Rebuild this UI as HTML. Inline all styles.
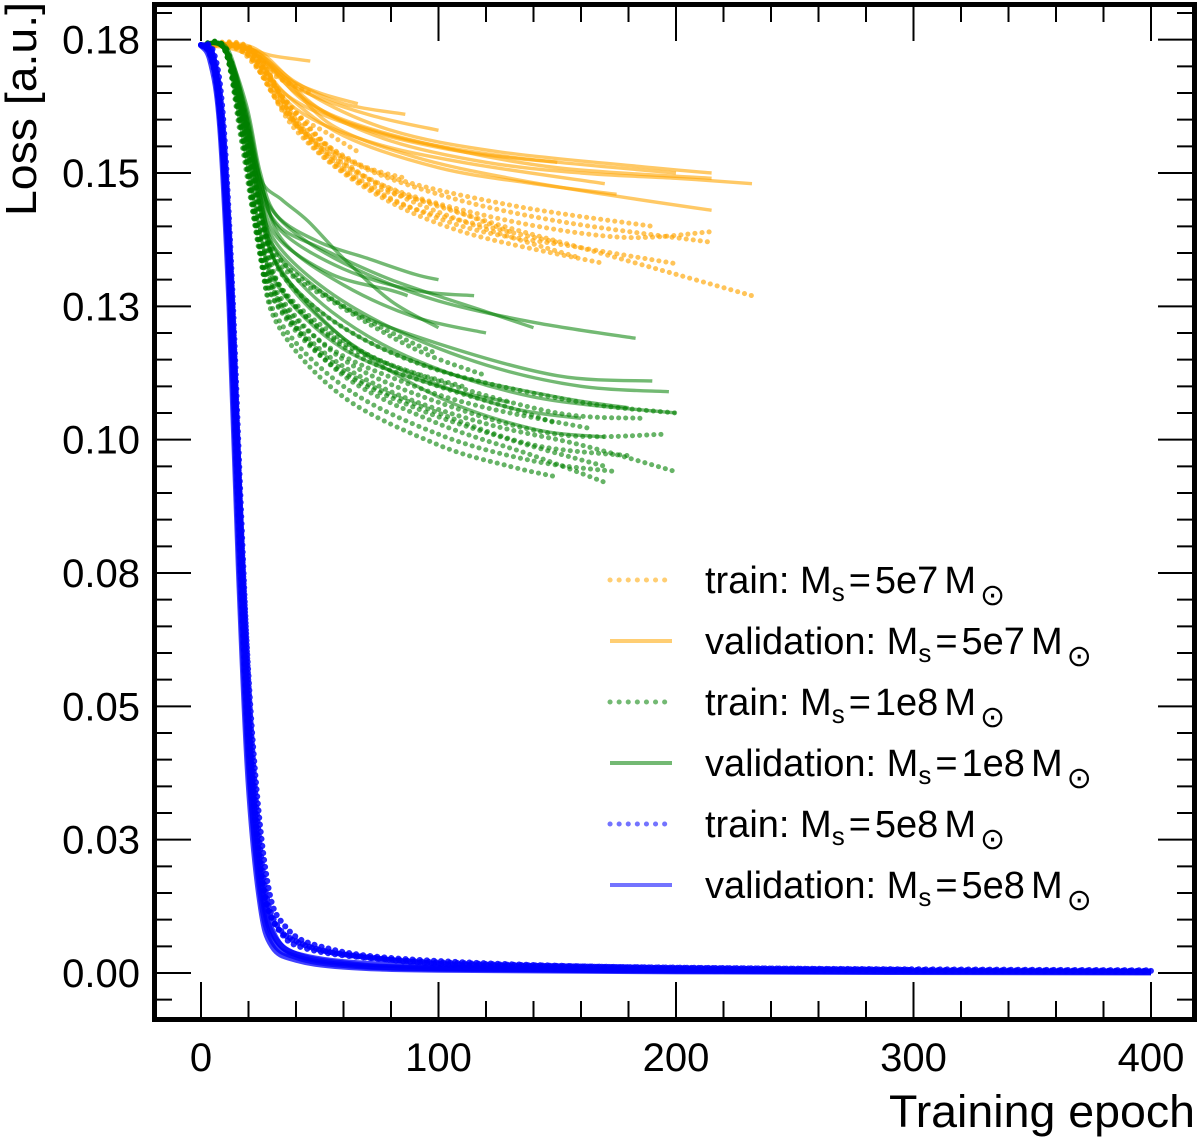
<!DOCTYPE html>
<html><head><meta charset="utf-8"><style>
html,body{margin:0;padding:0;background:#fff;}
svg text{font-family:"Liberation Sans",sans-serif;fill:#000;}
</style></head><body>
<svg id="chart" width="1200" height="1138" viewBox="0 0 1200 1138" xmlns="http://www.w3.org/2000/svg">
<g id="series"></g>
<g id="axes"></g>
<rect x="154.5" y="4.5" width="1040" height="1015" fill="none" stroke="#000" stroke-width="5"/>
<text transform="translate(36,216) rotate(-90)" font-size="44" text-anchor="start" textLength="214" lengthAdjust="spacingAndGlyphs">Loss [a.u.]</text>
<text x="1195" y="1127" font-size="45" text-anchor="end" textLength="306" lengthAdjust="spacingAndGlyphs">Training epoch</text>
<g id="legend"></g>
</svg>
<script>
const xTicks=[0,100,200,300,400];
const yTicks=[0,0.025,0.05,0.075,0.1,0.125,0.15,0.175];
const yTickLabels=["0.00","0.03","0.05","0.08","0.10","0.13","0.15","0.18"];
const blueVal=[
[[0,.174],[4,.172],[8,.162],[12,.13],[16,.08],[20,.04],[25,.015],[30,.006],[40,.003],[60,.0015],[100,.0008],[200,.0004],[400,.0002]],
[[0,.174],[4,.171],[8,.159],[12,.125],[16,.075],[20,.036],[25,.013],[30,.005],[40,.0025],[60,.0012],[100,.0006],[200,.0003],[400,.0001]],
[[0,.174],[5,.172],[9,.157],[13,.125],[17,.08],[21,.04],[26,.016],[31,.007],[40,.0035],[60,.0018],[100,.0009],[260,.0004]],
[[0,.174],[5,.171],[9,.155],[13,.12],[17,.074],[21,.035],[26,.014],[32,.006],[45,.003],[80,.0015],[160,.0006],[400,.0002]]];
const blueTrain=[
[[0,.174],[4,.172],[8,.163],[12,.135],[16,.088],[20,.048],[25,.02],[30,.01],[40,.006],[60,.0035],[100,.002],[200,.001],[400,.0005]],
[[0,.174],[5,.173],[9,.162],[13,.13],[17,.085],[21,.046],[26,.019],[32,.009],[45,.005],[70,.003],[120,.0015],[300,.0006]],
[[0,.174],[4,.172],[8,.161],[12,.132],[16,.084],[20,.044],[26,.017],[33,.008],[45,.0045],[80,.0025],[150,.001],[400,.0003]],
[[0,.174],[5,.172],[9,.16],[13,.128],[17,.082],[22,.042],[28,.017],[35,.009],[50,.005],[90,.0025],[200,.0009],[400,.0004]]];
const orangeVal=[
[[0,.174],[15,.174],[30,.170],[50,.162],[80,.156],[120,.152],[160,.150],[200,.149],[232,.148]],
[[0,.174],[20,.1735],[35,.168],[55,.159],[90,.153],[130,.149],[170,.146],[215,.143]],
[[0,.174],[20,.173],[40,.165],[60,.160],[100,.155],[150,.151],[215,.149]],
[[0,.174],[18,.1735],[30,.172],[46,.171]],
[[0,.174],[18,.1735],[35,.168],[50,.165],[66,.163]],
[[0,.174],[20,.1735],[40,.167],[60,.163],[86,.161]],
[[0,.174],[20,.173],[40,.166],[70,.161],[100,.158]],
[[0,.174],[22,.173],[45,.163],[80,.157],[130,.153],[200,.150]],
[[0,.174],[20,.172],[40,.162],[70,.156],[110,.152],[170,.148]],
[[0,.174],[20,.173],[38,.164],[70,.158],[110,.154],[150,.152]],
[[0,.174],[18,.173],[35,.165],[60,.157],[100,.151],[140,.148],[175,.146]],
[[0,.174],[22,.1735],[45,.165],[80,.158],[125,.154],[190,.151],[215,.150]]];
const orangeTrain=[
[[0,.174],[15,.1735],[30,.166],[50,.155],[80,.147],[120,.141],[160,.136],[200,.131],[232,.127]],
[[0,.174],[18,.1735],[35,.164],[60,.153],[100,.146],[150,.141],[215,.137]],
[[0,.174],[20,.173],[40,.161],[70,.149],[110,.141],[160,.134]],
[[0,.174],[18,.173],[32,.168],[46,.165]],
[[0,.174],[20,.173],[38,.162],[55,.157],[66,.154]],
[[0,.174],[20,.173],[40,.160],[65,.152],[86,.149]],
[[0,.174],[22,.173],[42,.158],[70,.148],[100,.144],[130,.139]],
[[0,.174],[18,.173],[35,.162],[65,.149],[110,.140],[160,.136],[200,.133]],
[[0,.174],[20,.172],[40,.158],[70,.147],[110,.139],[170,.133]],
[[0,.174],[22,.173],[45,.156],[80,.145],[120,.140],[150,.137]],
[[0,.174],[18,.173],[38,.160],[70,.149],[120,.142],[175,.138],[215,.139]],
[[0,.174],[20,.173],[40,.159],[75,.150],[130,.144],[190,.140]]];
const greenVal=[
[[0,.174],[10,.1735],[18,.163],[24,.150],[30,.143],[45,.137],[70,.131],[100,.126],[140,.122],[183,.119]],
[[0,.174],[10,.1735],[18,.162],[24,.148],[30,.138],[50,.129],[80,.121],[120,.114],[160,.110],[197,.109]],
[[0,.174],[10,.173],[18,.160],[25,.146],[32,.135],[55,.124],[90,.115],[140,.108],[200,.105]],
[[0,.174],[10,.173],[17,.160],[24,.145],[32,.133],[60,.119],[100,.108],[140,.102],[170,.1005]],
[[0,.174],[10,.1735],[19,.163],[25,.150],[32,.142],[50,.137],[70,.134],[90,.131],[100,.130]],
[[0,.174],[11,.1735],[19,.161],[26,.147],[34,.139],[60,.132],[90,.128],[115,.127]],
[[0,.174],[10,.1735],[18,.161],[25,.147],[32,.138],[55,.131],[80,.128],[87,.127]],
[[0,.174],[10,.173],[18,.160],[24,.146],[31,.136],[60,.125],[100,.118],[150,.112],[190,.111]],
[[0,.174],[10,.173],[18,.159],[25,.144],[33,.132],[60,.121],[100,.113],[150,.108],[180,.106]],
[[0,.174],[11,.173],[19,.159],[26,.143],[34,.131],[60,.119],[90,.112],[130,.106],[160,.104]],
[[0,.174],[10,.173],[18,.161],[25,.147],[33,.140],[50,.136],[80,.130],[120,.124],[140,.121]],
[[0,.174],[10,.173],[17,.158],[24,.141],[32,.129],[60,.117],[100,.110],[130,.107]],
[[0,.174],[10,.1735],[19,.162],[26,.147],[35,.137],[60,.129],[90,.123],[120,.120]],
[[0,.174],[10,.1735],[18,.162],[25,.149],[34,.145],[45,.141],[60,.134],[80,.126],[100,.121]]];
const greenTrain=[
[[0,.174],[10,.173],[17,.158],[23,.140],[30,.128],[50,.117],[80,.109],[120,.103],[160,.099],[200,.094]],
[[0,.174],[10,.173],[18,.158],[24,.139],[31,.126],[55,.114],[90,.106],[130,.100],[170,.095]],
[[0,.174],[11,.173],[19,.156],[26,.137],[34,.125],[60,.112],[100,.103],[140,.097],[170,.092]],
[[0,.174],[10,.173],[18,.156],[25,.138],[33,.127],[60,.115],[100,.107],[150,.101],[195,.101]],
[[0,.174],[10,.1735],[19,.160],[26,.141],[35,.133],[60,.125],[85,.119],[100,.116]],
[[0,.174],[11,.173],[19,.158],[27,.138],[36,.127],[65,.116],[100,.110],[130,.106],[150,.103]],
[[0,.174],[10,.173],[18,.157],[24,.140],[33,.129],[55,.120],[80,.114],[110,.110]],
[[0,.174],[10,.173],[17,.156],[24,.137],[32,.123],[60,.110],[100,.101],[140,.096],[175,.094]],
[[0,.174],[10,.173],[18,.155],[25,.134],[33,.121],[60,.108],[100,.099],[130,.095],[150,.093]],
[[0,.174],[11,.173],[19,.157],[26,.139],[34,.128],[60,.118],[100,.111],[150,.105],[185,.104]],
[[0,.174],[10,.1735],[18,.159],[25,.142],[33,.133],[55,.126],[90,.117],[120,.112]],
[[0,.174],[10,.173],[18,.156],[24,.138],[31,.126],[60,.113],[100,.105],[140,.099],[180,.097]],
[[0,.174],[10,.1735],[19,.159],[26,.141],[34,.131],[60,.121],[100,.113],[160,.107],[200,.105]],
[[0,.174],[10,.173],[17,.157],[24,.139],[32,.127],[55,.117],[90,.110],[120,.106],[165,.102]]];
const legendLabels=["5e7","5e7","1e8","1e8","5e8","5e8"];
const legendKinds=["train","validation","train","validation","train","validation"];

const NS="http://www.w3.org/2000/svg";
function X(e){return 201+e*2.375;}
function Y(v){return 973-v*5333.3;}
function mk(tag,attrs,parent){const el=document.createElementNS(NS,tag);for(const k in attrs)el.setAttribute(k,attrs[k]);parent.appendChild(el);return el;}
function pathD(pts){
  const p=pts.map(q=>[X(q[0]),Y(q[1])]);
  let d="M"+p[0][0].toFixed(1)+","+p[0][1].toFixed(1);
  for(let i=0;i<p.length-1;i++){
    const p0=p[Math.max(i-1,0)],p1=p[i],p2=p[i+1],p3=p[Math.min(i+2,p.length-1)];
    const c1x=p1[0]+(p2[0]-p0[0])/6,c1y=p1[1]+(p2[1]-p0[1])/6;
    const c2x=p2[0]-(p3[0]-p1[0])/6,c2y=p2[1]-(p3[1]-p1[1])/6;
    d+="C"+c1x.toFixed(1)+","+c1y.toFixed(1)+" "+c2x.toFixed(1)+","+c2y.toFixed(1)+" "+p2[0].toFixed(1)+","+p2[1].toFixed(1);
  }
  return d;
}
const sg=document.getElementById("series");
function drawSet(set,color,dotted,name,w,op){
  set.forEach((pts,i)=>{
    const el=mk("path",{d:pathD(pts),fill:"none",stroke:color,"stroke-width":w,"stroke-opacity":op,"stroke-linecap":dotted?"round":"butt"},sg);
    if(dotted)el.setAttribute("stroke-dasharray","0.1 7");
    
    
  });
}
drawSet(orangeVal,"#FFA500",false,"orange-validation-curve",3.4,0.6);
drawSet(orangeTrain,"#FFA500",true,"orange-train-curve",5,0.65);
drawSet(greenVal,"#008000",false,"green-validation-curve",3.4,0.55);
drawSet(greenTrain,"#008000",true,"green-train-curve",5,0.6);
drawSet(blueVal,"#0000FF",false,"blue-validation-curve",6,0.75);
drawSet(blueTrain,"#0000FF",true,"blue-train-curve",6,0.85);

const ax=document.getElementById("axes");
function line(x1,y1,x2,y2,w,name){const l=mk("line",{x1,y1,x2,y2,stroke:"#000","stroke-width":w},ax);}
for(let k=-9;k<=36;k++){
  const major=((k%5)+5)%5===0;const y=Y(k*0.005);
  if(y<8||y>1016)continue;
  line(155,y,major?191:172,y,2,"y-tick");
  line(1194,y,major?1158:1177,y,2,"y-tick-right");
}
yTicks.forEach((v,i)=>{const t=mk("text",{x:140,y:Y(v)+14,"font-size":40,"text-anchor":"end"},ax);t.textContent=yTickLabels[i];});
for(let k=-1;k<=20;k++){
  const e=k*20;const x=X(e);if(x<158||x>1192)continue;const major=k%5===0;
  line(x,1019,x,major?982:1001,2,"x-tick");
  line(x,5,x,major?41:22,2,"x-tick-top");
}
xTicks.forEach(v=>{const t=mk("text",{x:X(v),y:1071,"font-size":40,"text-anchor":"middle"},ax);t.textContent=String(v);});

const lg=document.getElementById("legend");
const lcol=["#FFA500","#FFA500","#008000","#008000","#0000FF","#0000FF"];
legendKinds.forEach((k,i)=>{
  const y=580+i*61;
  const dotted=k==="train";
  const s=mk("line",{x1:610,y1:y,x2:672,y2:y,stroke:lcol[i],"stroke-width":dotted?5:4,"stroke-opacity":0.55,"stroke-linecap":dotted?"round":"butt"},lg);
  if(dotted)s.setAttribute("stroke-dasharray","0.1 9");
  
  
  const t=mk("text",{x:705,y:y+13,"font-size":38},lg);
  
  
  t.innerHTML=k+': M<tspan font-size="26" dy="8">s</tspan><tspan dy="-8" dx="4">=</tspan><tspan dx="4">'+legendLabels[i]+'</tspan><tspan dx="6">M</tspan><tspan font-size="30" dy="12" dx="4">\u2299</tspan>';
});
</script>
</body></html>
